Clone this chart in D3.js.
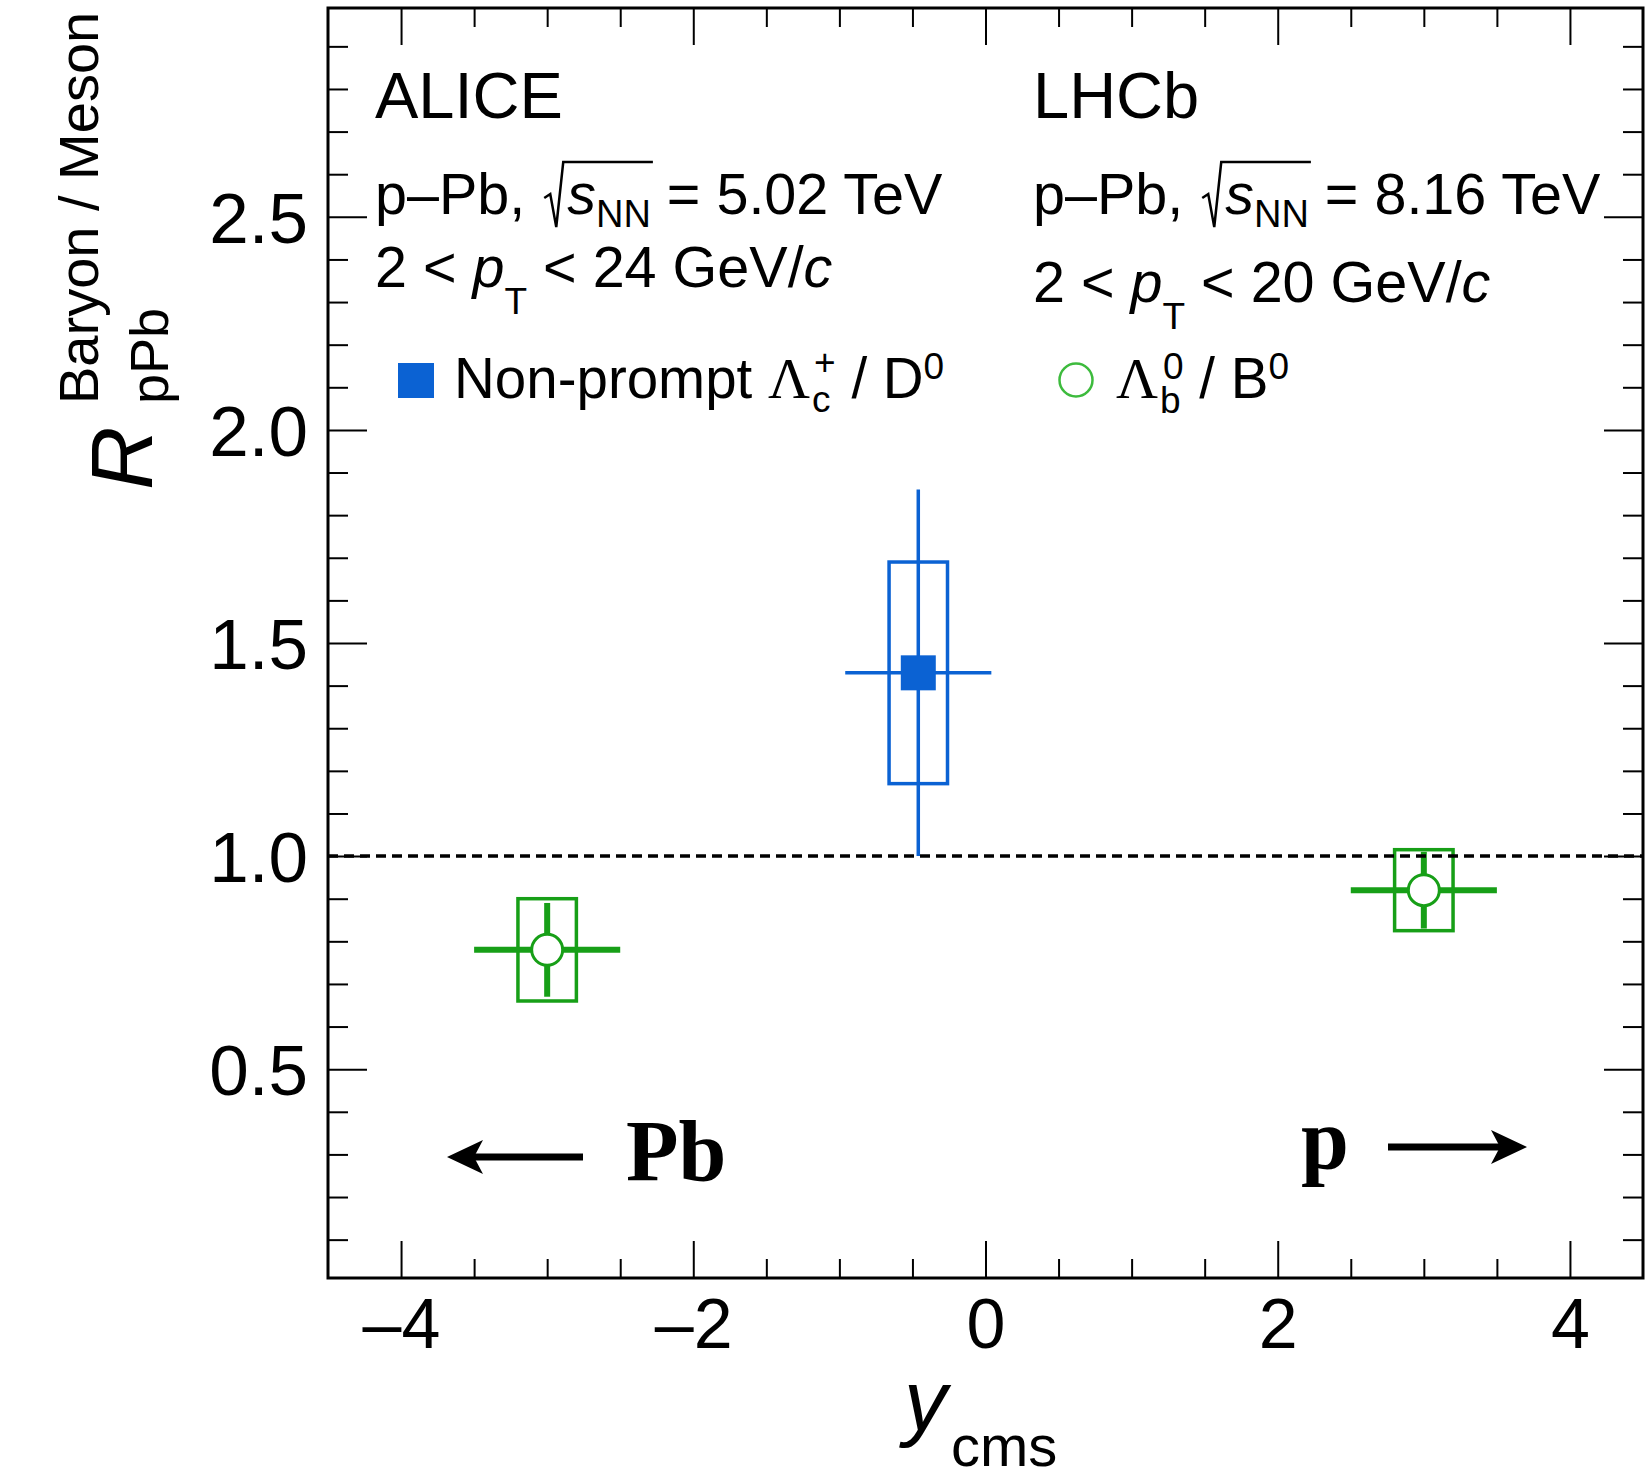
<!DOCTYPE html>
<html lang="en">
<head>
<meta charset="UTF-8">
<title>Baryon / Meson R_pPb vs y_cms</title>
<script src="https://d3js.org/d3.v7.min.js"></script>
<style>
    body { margin: 0; padding: 0; background: #fff; }
    #chart { display: block; }
    text { font-family: "Liberation Sans", Arial, Helvetica, sans-serif; fill: #000; white-space: pre; }
    .tick line { stroke: #000; stroke-width: 2px; }
    .serif { font-family: "Liberation Serif", "Times New Roman", serif; }
</style>
</head>
<body>
<svg id="chart"></svg>
<script>
    // ALICE non-prompt Lc+/D0 (p-Pb 5.02 TeV)
    const aliceY = [-0.46];
    const aliceYLo = [-0.96];
    const aliceYHi = [0.04];
    const aliceVal = [1.43];
    const aliceStat = [0.43];
    const aliceSyst = [0.26];

    // LHCb Lb0/B0 (p-Pb 8.16 TeV)
    const lhcbY = [-3.0, 3.0];
    const lhcbYLo = [-3.5, 2.5];
    const lhcbYHi = [-2.5, 3.5];
    const lhcbVal = [0.78, 0.92];
    const lhcbStat = [0.11, 0.09];
    const lhcbSyst = [0.12, 0.095];

    const sysHalfWidth = 0.2;

    const xMajor = [-4, -2, 0, 2, 4];
    const xTickLabels = ['\u20134', '\u20132', '0', '2', '4'];
    const yMajor = [0.5, 1.0, 1.5, 2.0, 2.5];
    const yTickLabels = ['0.5', '1.0', '1.5', '2.0', '2.5'];

    const W = 1645, H = 1473;
    const frame = { left: 328, right: 1643, top: 8, bottom: 1278 };
    const blue = '#0b62d3';
    const green = '#179f17';
    const greenLight = '#3dbb3d';

    const svg = d3.select('#chart').attr('width', W).attr('height', H);

    const x = d3.scaleLinear().domain([-4.5, 4.5]).range([frame.left, frame.right]);
    const y = d3.scaleLinear().domain([0.01, 2.99]).range([frame.bottom, frame.top]);

    // minor tick values
    const xMinor = d3.range(-4.0, 4.01, 0.5).map(v => +v.toFixed(2)).filter(v => !xMajor.includes(v));
    const yMinor = d3.range(0.1, 2.95, 0.1).map(v => +v.toFixed(2)).filter(v => !yMajor.includes(v));

    function tickAxis(axisFn, scale, values, size, transform) {
        const g = svg.append('g')
            .attr('transform', transform)
            .call(axisFn(scale).tickValues(values).tickSize(size).tickFormat(''));
        g.select('.domain').remove();
        return g;
    }

    // ticks on all four sides, pointing inward
    tickAxis(d3.axisTop, x, xMajor, 37, `translate(0,${frame.bottom})`);
    tickAxis(d3.axisTop, x, xMinor, 19, `translate(0,${frame.bottom})`);
    tickAxis(d3.axisBottom, x, xMajor, 37, `translate(0,${frame.top})`);
    tickAxis(d3.axisBottom, x, xMinor, 19, `translate(0,${frame.top})`);
    tickAxis(d3.axisRight, y, yMajor, 39, `translate(${frame.left},0)`);
    tickAxis(d3.axisRight, y, yMinor, 20, `translate(${frame.left},0)`);
    tickAxis(d3.axisLeft, y, yMajor, 39, `translate(${frame.right},0)`);
    tickAxis(d3.axisLeft, y, yMinor, 20, `translate(${frame.right},0)`);

    // tick labels
    const xLab = svg.append('g')
        .attr('transform', `translate(0,${frame.bottom})`)
        .call(d3.axisBottom(x).tickValues(xMajor).tickSize(0).tickPadding(20)
            .tickFormat((d, i) => xTickLabels[i]));
    xLab.select('.domain').remove();
    xLab.selectAll('text').style('font-size', '70px').attr('font-family', null);

    const yLab = svg.append('g')
        .attr('transform', `translate(${frame.left},0)`)
        .call(d3.axisLeft(y).tickValues(yMajor).tickSize(0).tickPadding(20)
            .tickFormat((d, i) => yTickLabels[i]));
    yLab.select('.domain').remove();
    yLab.selectAll('text').style('font-size', '71px').attr('dy', '0.36em').attr('font-family', null);

    // frame
    svg.append('rect')
        .attr('x', frame.left).attr('y', frame.top)
        .attr('width', frame.right - frame.left).attr('height', frame.bottom - frame.top)
        .attr('fill', 'none').attr('stroke', '#000').attr('stroke-width', 3);

    const plot = svg.append('g');

    // systematic boxes
    plot.selectAll('.sysA').data(aliceY).join('rect')
        .attr('x', d => x(d - sysHalfWidth)).attr('width', 2 * (x(sysHalfWidth) - x(0)))
        .attr('y', (d, i) => y(aliceVal[i] + aliceSyst[i]))
        .attr('height', (d, i) => y(aliceVal[i] - aliceSyst[i]) - y(aliceVal[i] + aliceSyst[i]))
        .attr('fill', 'none').attr('stroke', blue).attr('stroke-width', 3.5);

    plot.selectAll('.sysL').data(lhcbY).join('rect')
        .attr('x', d => x(d - sysHalfWidth)).attr('width', 2 * (x(sysHalfWidth) - x(0)))
        .attr('y', (d, i) => y(lhcbVal[i] + lhcbSyst[i]))
        .attr('height', (d, i) => y(lhcbVal[i] - lhcbSyst[i]) - y(lhcbVal[i] + lhcbSyst[i]))
        .attr('fill', 'none').attr('stroke', green).attr('stroke-width', 3.5);

    // reference line at 1
    svg.append('line')
        .attr('x1', frame.left).attr('x2', frame.right)
        .attr('y1', y(1)).attr('y2', y(1))
        .attr('stroke', '#000').attr('stroke-width', 3.5).attr('stroke-dasharray', '10,6');

    // stat error bars
    aliceY.forEach((d, i) => {
        plot.append('line').attr('x1', x(aliceYLo[i])).attr('x2', x(aliceYHi[i]))
            .attr('y1', y(aliceVal[i])).attr('y2', y(aliceVal[i]))
            .attr('stroke', blue).attr('stroke-width', 3.5);
        plot.append('line').attr('x1', x(d)).attr('x2', x(d))
            .attr('y1', y(aliceVal[i] + aliceStat[i])).attr('y2', y(aliceVal[i] - aliceStat[i]))
            .attr('stroke', blue).attr('stroke-width', 3.5);
    });
    lhcbY.forEach((d, i) => {
        plot.append('line').attr('x1', x(lhcbYLo[i])).attr('x2', x(lhcbYHi[i]))
            .attr('y1', y(lhcbVal[i])).attr('y2', y(lhcbVal[i]))
            .attr('stroke', green).attr('stroke-width', 6);
        plot.append('line').attr('x1', x(d)).attr('x2', x(d))
            .attr('y1', y(lhcbVal[i] + lhcbStat[i])).attr('y2', y(lhcbVal[i] - lhcbStat[i]))
            .attr('stroke', green).attr('stroke-width', 6);
    });

    // markers
    plot.selectAll('.mA').data(aliceY).join('rect')
        .attr('x', d => x(d) - 17.5).attr('y', (d, i) => y(aliceVal[i]) - 17.5)
        .attr('width', 35).attr('height', 35).attr('fill', blue);
    plot.selectAll('.mL').data(lhcbY).join('circle')
        .attr('cx', d => x(d)).attr('cy', (d, i) => y(lhcbVal[i]))
        .attr('r', 15.5).attr('fill', '#fff').attr('stroke', green).attr('stroke-width', 3);

    // rich text helper: runs placed one after another, "stack" puts a run over the previous one
    function rich(g, x0, base, runs) {
        let cx = x0, prevStart = x0, prevEnd = x0;
        const nodes = [];
        runs.forEach(r => {
            const start = (r.stack ? prevStart : cx) + (r.dx || 0);
            const t = g.append('text')
                .attr('x', start).attr('y', base + (r.dy || 0))
                .style('font-size', r.fs + 'px')
                .text(r.t);
            if (r.italic) t.style('font-style', 'italic');
            if (r.serif) t.attr('class', 'serif');
            const w = t.node().getComputedTextLength();
            nodes.push({ start, end: start + w });
            if (r.stack) {
                cx = Math.max(prevEnd, start + w);
            } else {
                prevStart = start;
                prevEnd = start + w;
                cx = start + w;
            }
        });
        return nodes;
    }

    function energyLine(x0, base, energy) {
        const n = rich(svg, x0, base, [
            { t: 'p\u2013Pb, ', fs: 57.5 },
            { t: 's', fs: 57.5, italic: true, dx: 26 },
            { t: 'NN', fs: 38, dy: 13 },
            { t: ' = ' + energy + ' TeV', fs: 57.5 }
        ]);
        const s0 = n[1].start, e0 = n[2].end;
        svg.append('path')
            .attr('d', `M${s0 - 23},${base - 16} L${s0 - 17},${base - 20} L${s0 - 11},${base + 13} L${s0 - 4},${base - 52} L${e0 + 2},${base - 52}`)
            .attr('fill', 'none').attr('stroke', '#000').attr('stroke-width', 2.5)
            .attr('stroke-linejoin', 'miter');
    }

    function ptLine(x0, base, hi) {
        rich(svg, x0, base, [
            { t: '2 < ', fs: 57.5 },
            { t: 'p', fs: 57.5, italic: true },
            { t: 'T', fs: 37, dy: 27 },
            { t: ' < ' + hi + ' GeV/', fs: 57.5 },
            { t: 'c', fs: 57.5, italic: true }
        ]);
    }

    // ALICE block
    svg.append('text').attr('x', 375).attr('y', 118).style('font-size', '65px').text('ALICE');
    energyLine(375, 214, '5.02');
    ptLine(375, 287, '24');
    svg.append('rect').attr('x', 398).attr('y', 363).attr('width', 36).attr('height', 35).attr('fill', blue);
    rich(svg, 454, 398, [
        { t: 'Non-prompt ', fs: 56.5 },
        { t: '\u039B', fs: 58, serif: true },
        { t: 'c', fs: 37, dy: 14, dx: 2 },
        { t: '+', fs: 37, dy: -23, stack: true, dx: 2 },
        { t: ' / D', fs: 56.5 },
        { t: '0', fs: 37, dy: -19 }
    ]);

    // LHCb block
    svg.append('text').attr('x', 1033).attr('y', 118).style('font-size', '65px').text('LHCb');
    energyLine(1033, 214, '8.16');
    ptLine(1033, 302, '20');
    svg.append('circle').attr('cx', 1076).attr('cy', 380).attr('r', 16.5)
        .attr('fill', 'none').attr('stroke', greenLight).attr('stroke-width', 2.5);
    rich(svg, 1116, 398, [
        { t: '\u039B', fs: 58, serif: true },
        { t: 'b', fs: 37, dy: 15, dx: 2 },
        { t: '0', fs: 37, dy: -19, stack: true, dx: 3 },
        { t: ' / B', fs: 56.5 },
        { t: '0', fs: 37, dy: -19 }
    ]);

    // beam direction labels
    svg.append('text').attr('class', 'serif').attr('x', 626).attr('y', 1180)
        .style('font-size', '86px').style('font-weight', 'bold').text('Pb');
    svg.append('text').attr('class', 'serif').attr('x', 1301).attr('y', 1168)
        .style('font-size', '86px').style('font-weight', 'bold').text('p');

    function arrow(xTail, xHead, yy) {
        const dir = Math.sign(xHead - xTail);
        svg.append('line').attr('x1', xTail).attr('x2', xHead - dir * 20)
            .attr('y1', yy).attr('y2', yy).attr('stroke', '#000').attr('stroke-width', 7);
        svg.append('path')
            .attr('d', `M${xHead},${yy} L${xHead - dir * 36},${yy - 17} L${xHead - dir * 27},${yy} L${xHead - dir * 36},${yy + 17} Z`)
            .attr('fill', '#000');
    }
    arrow(583, 447, 1157);
    arrow(1388, 1527, 1147);

    // axis titles
    rich(svg, 904, 1430, [
        { t: 'y', fs: 86, italic: true },
        { t: 'cms', fs: 58, dy: 36, dx: 4 }
    ]);

    const yt = svg.append('g');
    yt.append('text').attr('transform', 'translate(152,490) rotate(-90)')
        .style('font-size', '88px').style('font-style', 'italic').text('R');
    yt.append('text').attr('transform', 'translate(168,404) rotate(-90)')
        .style('font-size', '54px').text('pPb');
    yt.append('text').attr('transform', 'translate(98,404) rotate(-90)')
        .style('font-size', '56px').text('Baryon / Meson');
</script>
</body>
</html>
